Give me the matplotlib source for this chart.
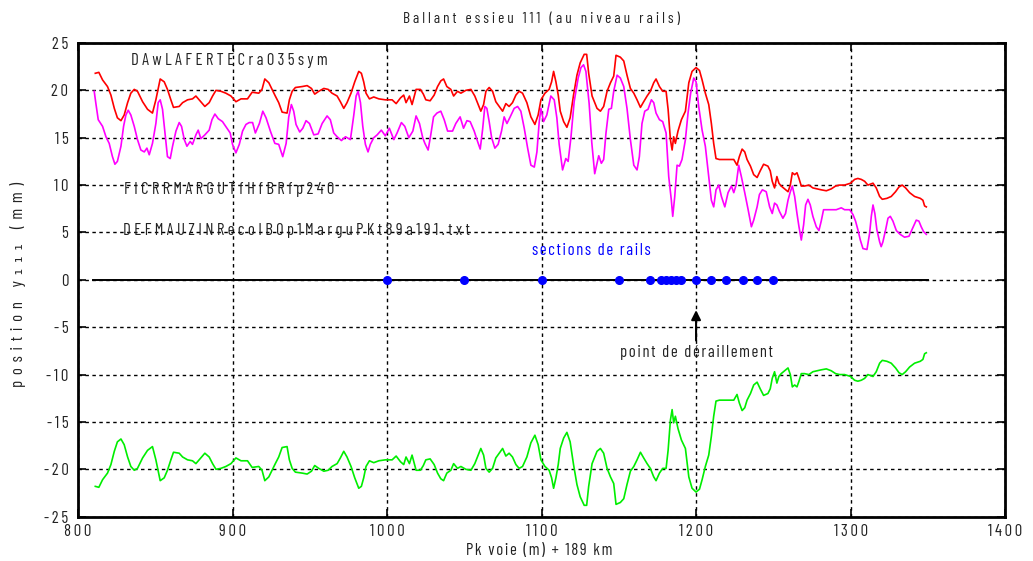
import matplotlib
matplotlib.use("Agg")
import matplotlib.pyplot as plt
from matplotlib import font_manager as fm
from matplotlib.ticker import FixedLocator

names = {f.name for f in fm.fontManager.ttflist}
FONT = next((n for n in ['Barlow Condensed', 'Fira Sans Extra Condensed', 'Archivo Narrow',
                         'Roboto Condensed', 'Liberation Sans'] if n in names), 'DejaVu Sans')
FAM = [FONT, 'DejaVu Sans']
plt.rcParams['font.family'] = FAM

# ---------------- data ----------------
red_x = [811.2, 813.5, 815.9, 819.1, 821.3, 823.5, 825.5, 827.8, 829.9, 832.1, 834.2, 836.4, 838.5, 841.8,
         845.0, 848.2, 850.4, 853.2, 855.8, 857.9, 860.1, 861.8, 865.5, 867.7, 870.9, 874.1, 876.3, 879.5,
         882.1, 884.9, 887.1, 889.3, 892.5, 895.7, 899.0, 902.2, 905.5, 909.7, 912.7, 917.0, 919.1, 920.9,
         923.5, 925.6, 927.7, 929.9, 932.1, 935.3, 936.8, 938.6, 940.7, 945.1, 948.3, 951.1, 953.2, 955.8,
         959.1, 961.9, 964.4, 967.7, 969.8, 972.0, 974.1, 976.7, 979.1, 981.7, 983.4, 984.9, 986.4, 988.6,
         991.4, 994.7, 998.9, 1003.3, 1005.9, 1008.7, 1010.8, 1012.3, 1014.5, 1016.2, 1018.8, 1021.6, 1023.5,
         1025.1, 1027.9, 1030.5, 1032.7, 1034.8, 1036.6, 1038.7, 1041.3, 1043.1, 1045.6, 1047.8, 1051.0,
         1054.3, 1056.8, 1059.0, 1060.7, 1062.5, 1064.0, 1066.1, 1068.3, 1070.4, 1072.6, 1074.8, 1076.9,
         1079.0, 1081.2, 1083.4, 1085.5, 1087.7, 1090.5, 1093.1, 1095.7, 1097.8, 1099.6, 1102.2, 1104.9,
         1106.5, 1107.8, 1109.3, 1110.8, 1112.1, 1114.3, 1116.4, 1118.5, 1120.7, 1122.9, 1125.0, 1127.6,
         1129.2, 1130.5, 1132.7, 1135.9, 1138.1, 1140.2, 1142.4, 1144.6, 1146.7, 1148.2, 1151.0, 1153.2,
         1155.3, 1157.5, 1159.7, 1161.8, 1164.0, 1166.1, 1168.3, 1170.4, 1172.6, 1174.1, 1176.3, 1178.4,
         1180.6, 1181.9, 1183.4, 1184.5, 1185.5, 1186.6, 1188.3, 1190.5, 1193.1, 1195.3, 1197.4, 1200.0,
         1202.2, 1203.9, 1206.0, 1208.2, 1209.9, 1211.4, 1212.9, 1215.1, 1217.9, 1221.1, 1224.4, 1226.5,
         1228.0, 1229.8, 1231.5, 1233.0, 1235.2, 1237.3, 1239.5, 1241.5, 1243.7, 1246.5, 1248.0, 1249.3,
         1250.8, 1252.3, 1253.6, 1255.1, 1257.3, 1259.5, 1261.0, 1262.3, 1263.8, 1265.3, 1266.6, 1268.1,
         1270.2, 1273.0, 1275.6, 1278.2, 1281.0, 1284.3, 1287.5, 1290.3, 1292.9, 1296.1, 1300.0, 1302.6,
         1304.7, 1306.9, 1309.1, 1311.2, 1314.5, 1316.6, 1318.8, 1320.5, 1323.5, 1326.3, 1329.1, 1331.3,
         1333.4, 1335.6, 1338.2, 1341.4, 1345.1, 1346.8, 1347.9, 1349.0]
red_y = [21.8, 21.9, 21.1, 20.4, 19.5, 18.1, 17.1, 16.8, 17.4, 18.7, 19.7, 20.1, 19.9, 18.8,
         18.0, 17.6, 19.0, 21.2, 20.9, 20.1, 19.0, 18.2, 18.3, 18.7, 19.0, 19.1, 19.4, 18.8,
         18.3, 18.7, 19.4, 20.0, 19.9, 19.7, 19.4, 18.8, 19.1, 19.1, 19.8, 19.7, 20.1, 21.2,
         20.8, 20.1, 19.4, 18.7, 17.7, 17.6, 19.0, 19.9, 20.3, 20.4, 20.5, 20.2, 19.6, 19.9,
         20.2, 20.1, 19.7, 19.4, 18.8, 18.1, 18.7, 19.7, 20.9, 22.0, 21.8, 20.9, 19.7, 19.1,
         19.3, 19.1, 19.0, 19.0, 18.6, 19.2, 19.5, 18.7, 19.4, 18.5, 20.1, 20.1, 19.6,
         19.0, 18.9, 19.5, 20.4, 21.0, 21.2, 20.4, 20.1, 19.4, 19.9, 19.7, 20.0,
         20.1, 19.4, 18.5, 17.8, 18.5, 19.9, 20.3, 19.9, 18.8, 18.3, 17.8, 18.6,
         18.3, 18.7, 19.5, 19.9, 19.7, 18.7, 17.2, 16.4, 17.4, 19.0, 19.7, 20.1,
         20.9, 22.0, 20.9, 19.5, 17.8, 16.7, 16.1, 17.1, 19.5, 21.6, 22.9, 23.8,
         23.8, 21.8, 19.4, 18.1, 17.8, 18.3, 19.9, 20.8, 21.5, 23.7, 23.5, 23.1,
         21.6, 20.2, 19.7, 19.0, 18.2, 18.8, 19.4, 19.9, 20.8, 21.2, 20.4, 19.9,
         19.9, 18.0, 14.8, 13.7, 15.1, 14.4, 15.7, 16.9, 17.8, 20.8, 22.0, 22.4,
         22.1, 21.1, 19.7, 18.5, 16.5, 14.4, 12.8, 12.7, 12.7, 12.7, 12.7, 12.1,
         13.0, 13.8, 13.5, 12.7, 12.0, 11.1, 10.8, 11.5, 12.2, 12.0, 11.5, 10.4,
         9.7, 10.9, 10.2, 9.9, 9.6, 9.3, 10.0, 11.3, 11.1, 11.3, 10.7, 9.9,
         9.9, 10.0, 9.7, 9.6, 9.5, 9.4, 9.6, 9.9, 10.0, 10.0, 10.2, 10.6,
         10.7, 10.6, 10.4, 10.0, 10.2, 9.7, 8.8, 8.5, 8.6, 8.8, 9.3, 9.8,
         10.0, 9.7, 9.2, 8.8, 8.6, 8.4, 7.8, 7.7]
# lower series (same sampling positions as red_x)
green_y = [-21.8, -21.9, -21.1, -20.4, -19.5, -18.1, -17.1, -16.8, -17.4, -18.7, -19.7, -20.1, -19.9, -18.8,
           -18.0, -17.6, -19.0, -21.2, -20.9, -20.1, -19.0, -18.2, -18.3, -18.7, -19.0, -19.1, -19.4, -18.8,
           -18.3, -18.7, -19.4, -20.0, -19.9, -19.7, -19.4, -18.8, -19.1, -19.1, -19.8, -19.7, -20.1, -21.2,
           -20.8, -20.1, -19.4, -18.7, -17.7, -17.6, -19.0, -19.9, -20.3, -20.4, -20.5, -20.2, -19.6, -19.9,
           -20.2, -20.1, -19.7, -19.4, -18.8, -18.1, -18.7, -19.7, -20.9, -22.0, -21.8, -20.9, -19.7, -19.1,
           -19.3, -19.1, -19.0, -19.0, -18.6, -19.2, -19.5, -18.7, -19.4, -18.5, -20.1, -20.1, -19.6,
           -19.0, -18.9, -19.5, -20.4, -21.0, -21.2, -20.4, -20.1, -19.4, -19.9, -19.7, -20.0,
           -20.1, -19.4, -18.5, -17.8, -18.5, -19.9, -20.3, -19.9, -18.8, -18.3, -17.8, -18.6,
           -18.3, -18.7, -19.5, -19.9, -19.7, -18.7, -17.2, -16.4, -17.4, -19.0, -19.7, -20.1,
           -20.9, -22.0, -20.9, -19.5, -17.8, -16.7, -16.1, -17.1, -19.5, -21.6, -22.9, -23.8,
           -23.8, -21.8, -19.4, -18.1, -17.8, -18.3, -19.9, -20.8, -21.5, -23.7, -23.5, -23.1,
           -21.6, -20.2, -19.7, -19.0, -18.2, -18.8, -19.4, -19.9, -20.8, -21.2, -20.4, -19.9,
           -19.9, -18.0, -14.8, -13.7, -15.1, -14.4, -15.7, -16.9, -17.8, -20.8, -22.0, -22.4,
           -22.1, -21.1, -19.7, -18.5, -16.5, -14.4, -12.8, -12.7, -12.7, -12.7, -12.7, -12.1,
           -13.0, -13.8, -13.5, -12.7, -12.0, -11.1, -10.8, -11.5, -12.2, -12.0, -11.5, -10.4,
           -9.7, -10.9, -10.2, -9.9, -9.6, -9.3, -10.0, -11.3, -11.1, -11.3, -10.7, -9.9,
           -9.9, -10.0, -9.7, -9.6, -9.5, -9.4, -9.6, -9.9, -10.0, -10.0, -10.2, -10.6,
           -10.7, -10.6, -10.4, -10.0, -10.2, -9.7, -8.8, -8.5, -8.6, -8.8, -9.3, -9.8,
           -10.0, -9.7, -9.2, -8.8, -8.6, -8.4, -7.8, -7.7]
mag_x = [810.5, 811.5, 813.1, 815.9, 818.1, 820.2, 822.3, 823.9, 825.5, 827.8, 829.5, 831.0, 832.5, 834.2,
         836.4, 838.5, 840.7, 842.9, 844.6, 846.1, 848.2, 850.4, 851.9, 853.2, 854.7, 856.3, 857.9, 859.7,
         861.2, 863.4, 865.5, 867.0, 868.8, 870.5, 872.6, 874.1, 876.3, 877.8, 879.5, 882.1, 884.9, 886.7,
         888.6, 890.8, 893.5, 896.4, 898.5, 900.0, 902.2, 904.4, 906.5, 908.7, 910.8, 913.0, 914.8, 917.4,
         919.6, 921.7, 924.5, 927.4, 929.9, 932.5, 934.7, 936.4, 938.1, 939.6, 941.1, 943.5, 945.5, 947.6,
         949.8, 952.6, 955.4, 958.0, 961.2, 963.3, 965.5, 967.7, 970.5, 973.1, 976.3, 978.5, 980.0, 981.3,
         982.8, 984.3, 986.0, 987.7, 989.2, 991.4, 993.6, 996.3, 998.9, 1001.5, 1004.4, 1006.5, 1009.3,
         1011.5, 1014.1, 1016.7, 1018.8, 1021.0, 1023.1, 1024.5, 1026.6, 1028.3, 1030.1, 1032.3, 1034.8,
         1037.0, 1039.2, 1042.4, 1044.5, 1047.3, 1049.5, 1051.7, 1053.8, 1056.4, 1058.6, 1060.3, 1061.8,
         1063.3, 1064.6, 1066.1, 1067.7, 1069.8, 1071.9, 1074.1, 1075.8, 1077.6, 1079.7, 1082.3, 1084.5,
         1086.6, 1088.8, 1091.0, 1093.1, 1095.3, 1097.0, 1098.5, 1099.6, 1101.3, 1103.4, 1106.0, 1108.2,
         1109.9, 1111.4, 1113.6, 1115.7, 1117.2, 1119.0, 1121.1, 1123.7, 1125.5, 1127.2, 1128.7, 1130.8,
         1132.5, 1134.4, 1135.9, 1137.0, 1138.7, 1140.2, 1141.7, 1143.5, 1145.2, 1146.7, 1148.9, 1151.0,
         1153.2, 1155.3, 1157.5, 1159.7, 1161.8, 1163.3, 1165.0, 1166.8, 1168.9, 1171.1, 1172.6, 1174.1,
         1176.3, 1178.4, 1180.6, 1182.3, 1184.0, 1184.9, 1186.2, 1187.7, 1189.2, 1190.9, 1193.1, 1194.8,
         1196.5, 1198.5, 1200.0, 1201.7, 1203.9, 1206.0, 1208.2, 1209.9, 1211.4, 1212.9, 1214.7, 1216.4,
         1218.6, 1220.7, 1222.9, 1224.4, 1225.9, 1227.6, 1229.3, 1231.5, 1233.7, 1235.8, 1237.3, 1239.5,
         1241.0, 1242.9, 1245.4, 1247.6, 1249.3, 1250.8, 1252.3, 1254.0, 1256.2, 1257.9, 1259.5, 1261.0,
         1262.3, 1263.8, 1265.3, 1266.6, 1268.1, 1269.6, 1270.9, 1272.4, 1273.9, 1275.6, 1277.8, 1279.5,
         1281.0, 1282.5, 1284.7, 1287.5, 1290.7, 1294.0, 1296.1, 1299.4, 1301.5, 1303.2, 1304.7, 1306.3,
         1308.0, 1310.6, 1312.3, 1313.4, 1314.5, 1315.7, 1317.0, 1318.8, 1319.8, 1320.9, 1322.7, 1324.2,
         1325.7, 1327.4, 1329.6, 1332.1, 1334.9, 1337.8, 1340.3, 1342.5, 1344.2, 1345.7, 1347.2, 1349.0]
mag_y = [19.9, 18.7, 16.9, 16.2, 15.1, 14.4, 13.0, 12.2, 12.5, 14.1, 16.2, 17.4, 17.9, 17.4,
         16.2, 14.8, 13.7, 13.5, 13.9, 13.2, 14.4, 16.5, 18.7, 19.0, 18.0, 15.5, 13.0, 12.8,
         14.1, 15.7, 16.6, 16.2, 14.8, 14.1, 14.6, 14.3, 15.3, 15.8, 14.9, 15.3, 15.8, 16.9,
         17.5, 17.0, 16.7, 16.0, 15.5, 14.3, 13.4, 14.3, 15.7, 16.4, 16.6, 16.6, 15.5, 16.5,
         17.8, 17.1, 15.7, 14.4, 14.3, 13.0, 14.4, 17.2, 18.5, 17.8, 16.4, 15.6, 16.0, 16.8,
         16.5, 15.3, 15.4, 16.5, 17.3, 16.9, 15.5, 15.1, 14.7, 15.1, 14.8, 17.4, 19.4, 19.9,
         18.7, 16.2, 14.3, 13.5, 14.3, 15.0, 15.3, 15.8, 15.2, 16.0, 14.8, 15.5, 16.6,
         16.2, 15.0, 15.7, 17.3, 16.5, 15.0, 14.4, 13.7, 15.3, 17.2, 17.6, 17.8,
         16.9, 15.7, 15.7, 16.5, 17.2, 16.0, 16.8, 16.7, 15.7, 14.6, 13.8, 15.8,
         18.3, 18.1, 16.7, 15.0, 13.9, 14.3, 15.7, 17.2, 16.5, 17.2, 18.1, 18.3,
         17.8, 16.0, 13.9, 12.1, 11.9, 13.5, 16.7, 18.1, 16.7, 17.4, 19.4, 19.0,
         17.1, 14.3, 11.6, 12.8, 12.5, 15.0, 18.8, 21.3, 22.4, 22.7, 22.0, 18.6,
         14.5, 11.2, 12.3, 13.1, 12.3, 12.7, 15.5, 18.0, 18.1, 19.9, 21.6, 21.3,
         20.4, 18.1, 14.8, 12.1, 11.6, 13.0, 16.5, 17.8, 18.0, 19.0, 18.7, 17.6,
         16.9, 16.7, 15.5, 10.9, 8.4, 6.7, 8.8, 12.1, 12.0, 12.7, 14.8, 17.6,
         19.7, 21.3, 20.9, 18.3, 15.8, 14.1, 10.9, 8.4, 7.7, 9.5, 10.0, 8.8,
         7.7, 9.2, 9.9, 9.2, 10.0, 12.1, 10.9, 9.2, 7.4, 5.6, 6.3, 7.7,
         9.0, 9.5, 9.3, 7.7, 7.0, 8.1, 7.9, 7.2, 6.5, 7.0, 8.4, 9.3,
         9.9, 8.8, 7.0, 5.6, 4.2, 5.8, 7.9, 8.5, 7.9, 6.7, 5.6, 5.2,
         6.2, 7.4, 7.4, 7.4, 7.4, 7.6, 7.4, 7.4, 6.9, 6.2, 5.3, 4.2,
         3.3, 3.2, 4.9, 6.7, 7.9, 7.0, 5.3, 4.0, 3.5, 4.0, 5.3, 6.5,
         6.7, 6.2, 5.2, 4.8, 4.5, 4.6, 5.5, 6.3, 6.2, 5.6, 5.1, 4.8]
section_x = [1000, 1050, 1100, 1150, 1170, 1177, 1180.5, 1184, 1187, 1190, 1200, 1209.5, 1219.5, 1230.5, 1239.5, 1250]
section_y = [0] * len(section_x)
zero_x = [810, 1350]
zero_y = [0, 0]

xticks = [800, 900, 1000, 1100, 1200, 1300, 1400]
yticks = [-25, -20, -15, -10, -5, 0, 5, 10, 15, 20, 25]

title = "Ballant essieu 111 (au niveau rails)"
xlabel = "Pk voie (m) + 189 km"
ylabel = "position y\u2081\u2081\u2081 (mm)"
note1 = "DAwLAFERTECra035sym"
note2 = "FICRRMARGUTfHfBRfp240"
note3 = "DEFMAUZINRecoIB0p1MarguPKt89a191.txt"
note_sections = "sections de rails"
note_point = "point de déraillement"

TXT = '#222222'
SEPS = [' \u2009', ' \u200a', ' ', '\u2005\u200a', '\u2005', '\u2009', '\u2006', '\u200a\u200a', '\u200a', '']

# ---------------- figure ----------------
fig = plt.figure(figsize=(10.33, 5.61), dpi=100)
ax = fig.add_axes([0.0755, 0.079, 0.8975, 0.8444])
renderer = fig.canvas.get_renderer()


def fit_text(t, s, target, vertical=False):
    """Pick the inter-letter spacing that gives the reference length."""
    best = None
    for sep in SEPS:
        cand = sep.join(s)
        t.set_text(cand)
        bb = t.get_window_extent(renderer)
        w = bb.height if vertical else bb.width
        if best is None or abs(w - target) < best[0]:
            best = (abs(w - target), cand)
    t.set_text(best[1])
    return best[1]


ax.plot(red_x, red_y, color='#ff0000', lw=1.2)
ax.plot(mag_x, mag_y, color='#ff00ff', lw=1.2)
ax.plot(red_x, green_y, color='#00ee00', lw=1.2)
ax.plot(zero_x, zero_y, color='black', lw=1.4)
ax.plot(section_x, section_y, 'o', color='#0000ff', ms=5.5, mec='#0000ff')

ax.set_xlim(800, 1400)
ax.set_ylim(-25, 25)
ax.xaxis.set_major_locator(FixedLocator(xticks))
ax.yaxis.set_major_locator(FixedLocator(yticks))

TICK_FS = 12
tmp = fig.text(0, 0, '', fontsize=TICK_FS, family=FAM)
sep_tick, best = '', None
for sep in SEPS:
    tmp.set_text(sep.join('1000'))
    w = tmp.get_window_extent(renderer).width
    if best is None or abs(w - 33) < best:
        best, sep_tick = abs(w - 33), sep
tmp.remove()
ax.set_xticklabels([sep_tick.join(str(t)) for t in xticks])
ax.set_yticklabels([sep_tick.join(str(t)) for t in yticks])
ax.tick_params(direction='in', length=6, width=1.2, top=True, right=True,
               labelsize=TICK_FS, labelcolor=TXT, color='black')
ax.tick_params(axis='y', pad=7)
ax.tick_params(axis='x', pad=5)
ax.grid(True, color='black', linestyle=(0, (2.5, 2.5)), lw=1.0)
for s in ax.spines.values():
    s.set_linewidth(2.0)
    s.set_color('black')

t_title = ax.set_title('', fontsize=11, color=TXT, y=1.0507, va='center', pad=0)
fit_text(t_title, title, 272)
ax.set_xlabel('', fontsize=12, color=TXT)
ax.xaxis.label.set_va('center')
ax.xaxis.set_label_coords(0.497, -0.0724)
fit_text(ax.xaxis.label, xlabel, 156)
ax.set_ylabel('', fontsize=12, color=TXT)
ax.yaxis.label.set_va('center')
ax.yaxis.set_label_coords(-0.0647, 0.49)
fit_text(ax.yaxis.label, ylabel, 212, vertical=True)

t1 = ax.text(834.1, 22.7, '', fontsize=12, color=TXT, ha='left', va='baseline')
fit_text(t1, note1, 196)
t2 = ax.text(829.8, 9.1, '', fontsize=12, color=TXT, ha='left', va='baseline')
fit_text(t2, note2, 213)
t3 = ax.text(829.3, 4.75, '', fontsize=12, color=TXT, ha='left', va='baseline')
fit_text(t3, note3, 352)
t4 = ax.text(1132, 2.65, '', fontsize=12, color='#0000ff', ha='center', va='baseline')
fit_text(t4, note_sections, 121)
t5 = ax.text(1200, -8.1, '', fontsize=12, color=TXT, ha='center', va='baseline')
fit_text(t5, note_point, 157)
ax.annotate('', xy=(1200, -2.9), xytext=(1200, -6.7),
            arrowprops=dict(arrowstyle='-|>', color='black', lw=1.5, mutation_scale=14))

fig.savefig('out.png', dpi=100)
